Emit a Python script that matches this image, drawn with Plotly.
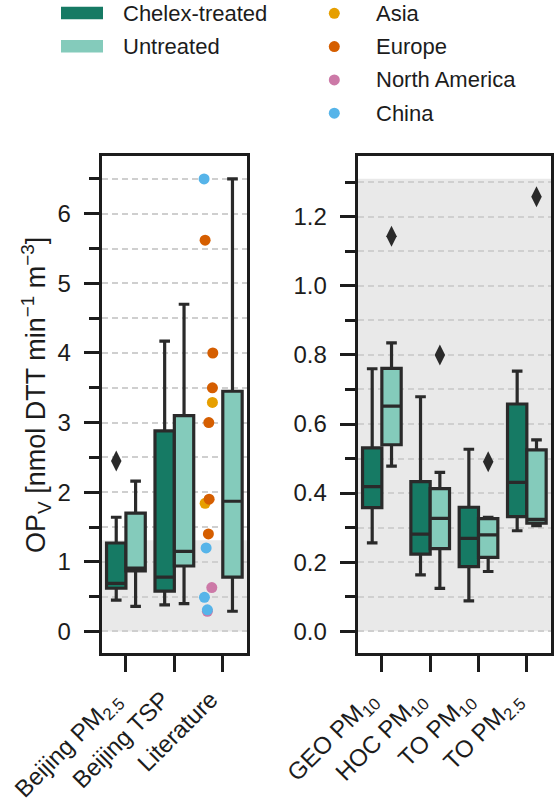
import plotly.graph_objects as go

W, H = 555, 802

# ---------------- data ----------------
left_categories = ["Beijing PM<sub>2.5</sub>", "Beijing TSP", "Literature"]
right_categories = ["GEO PM<sub>10</sub>", "HOC PM<sub>10</sub>", "TO PM<sub>10</sub>", "TO PM<sub>2.5</sub>"]

# box statistics: [lowerfence, q1, median, q3, upperfence]; None = no box
left_chelex = [
    [0.45, 0.62, 0.69, 1.27, 1.64],
    [0.38, 0.58, 0.78, 2.88, 4.17],
    None,
]
left_untreated = [
    [0.36, 0.87, 0.91, 1.70, 2.16],
    [0.40, 0.94, 1.15, 3.10, 4.70],
    [0.29, 0.78, 1.87, 3.45, 6.50],
]
right_chelex = [
    [0.256, 0.358, 0.419, 0.531, 0.760],
    [0.163, 0.223, 0.281, 0.433, 0.679],
    [0.088, 0.187, 0.269, 0.359, 0.527],
    [0.291, 0.332, 0.431, 0.658, 0.753],
]
right_untreated = [
    [0.478, 0.540, 0.652, 0.761, 0.835],
    [0.124, 0.239, 0.327, 0.413, 0.460],
    [0.173, 0.214, 0.279, 0.326, 0.330],
    [0.306, 0.313, 0.324, 0.525, 0.554],
]

# outliers: (category index, group, value)
left_outliers = [(0, "Chelex-treated", 2.45)]
right_outliers = [
    (0, "Untreated", 1.144),
    (1, "Untreated", 0.800),
    (2, "Untreated", 0.491),
    (3, "Untreated", 1.258),
]

# literature values (stripplot), region, and read-off horizontal jitter
lit_values = [6.50, 5.62, 4.00, 3.50, 3.29, 3.00, 1.90, 1.84, 1.40, 1.20, 0.63, 0.49, 0.29, 0.31]
lit_regions = ["China", "Europe", "Europe", "Europe", "Asia", "Europe", "Europe", "Asia",
               "Europe", "China", "North America", "China", "North America", "China"]
lit_jitter = [-0.386, -0.365, -0.206, -0.214, -0.214, -0.289, -0.282, -0.365,
              -0.297, -0.344, -0.227, -0.379, -0.318, -0.318]

region_names = ["Asia", "Europe", "North America", "China"]
region_colors = {"Asia": "#e69f00", "Europe": "#d55e00", "North America": "#cc79a7", "China": "#56b4e9"}
group_names = ["Chelex-treated", "Untreated"]
group_colors = {"Chelex-treated": "#167a64", "Untreated": "#84cbbb"}

shade_top = 1.31

# ---------------- styling ----------------
FONT = "Liberation Sans, Arial, sans-serif"
INK = "#1c1c1c"
EDGE = "#2a2a2a"
GRID = "#cfcfcf"
SHADE = "#e9e9e9"
OFFSET = {"Chelex-treated": -0.2, "Untreated": 0.2}

fig = go.Figure()


def add_boxes(stats_list, group, xaxis, yaxis):
    for i, st in enumerate(stats_list):
        if st is None:
            continue
        lo, q1, med, q3, hi = st
        fig.add_trace(go.Box(
            x=[i + OFFSET[group]], q1=[q1], median=[med], q3=[q3],
            lowerfence=[lo], upperfence=[hi], width=0.4,
            fillcolor=group_colors[group],
            line=dict(color=EDGE, width=3.2), whiskerwidth=0.55,
            boxpoints=False, showlegend=False, hoverinfo="skip",
            xaxis=xaxis, yaxis=yaxis,
        ))


add_boxes(left_chelex, "Chelex-treated", "x", "y")
add_boxes(left_untreated, "Untreated", "x", "y")
add_boxes(right_chelex, "Chelex-treated", "x2", "y2")
add_boxes(right_untreated, "Untreated", "x2", "y2")

for outs, xa, ya in [(left_outliers, "x", "y"), (right_outliers, "x2", "y2")]:
    fig.add_trace(go.Scatter(
        x=[c + OFFSET[g] for c, g, v in outs], y=[v for c, g, v in outs],
        mode="markers", marker=dict(symbol="diamond-tall", size=15, color=EDGE),
        showlegend=False, hoverinfo="skip", xaxis=xa, yaxis=ya,
    ))

lit_index = left_categories.index("Literature")
for reg in region_names:
    xs = [lit_index + j for j, r in zip(lit_jitter, lit_regions) if r == reg]
    ys = [v for v, r in zip(lit_values, lit_regions) if r == reg]
    fig.add_trace(go.Scatter(
        x=xs, y=ys, mode="markers",
        marker=dict(size=11, color=region_colors[reg], line=dict(width=0)),
        showlegend=False, hoverinfo="skip", xaxis="x", yaxis="y",
    ))

# shaded band
for xr, yr in [("x", "y"), ("x2", "y2")]:
    fig.add_shape(type="rect", xref=f"{xr} domain", yref=yr, x0=0, x1=1,
                  y0=0, y1=shade_top, fillcolor=SHADE, line=dict(width=0), layer="below")

# ---------------- layout ----------------
def px_x(p):
    return p / W


def px_y(p):
    return 1 - p / H


ydom = [px_y(653), px_y(156)]
ytickfont = dict(family=FONT, size=24, color=INK)
xtickfont = dict(family=FONT, size=24, color=INK)

common_y = dict(
    showline=True, linecolor=INK, linewidth=3, mirror=True,
    ticks="outside", ticklen=15, tickwidth=3, tickcolor=INK,
    tickfont=ytickfont, ticklabelstandoff=8, automargin=False,
    showgrid=True, gridcolor=GRID, gridwidth=1.5, griddash="6px,4px",
    zeroline=False, domain=ydom,
)
common_x = dict(
    showline=True, linecolor=INK, linewidth=3, mirror=True,
    ticks="outside", ticklen=16, tickwidth=3, tickcolor=INK,
    tickfont=xtickfont, tickangle=-45, showgrid=False, zeroline=False,
    automargin=False, ticklabelshift=-12, ticklabelstandoff=4,
)

fig.update_layout(
    width=W, height=H, margin=dict(l=0, r=0, t=0, b=0, autoexpand=False),
    paper_bgcolor="white", plot_bgcolor="white",
    font=dict(family=FONT, color=INK),
    showlegend=False,
    xaxis=dict(common_x, domain=[px_x(101.7), px_x(247)], range=[-0.5, 2.5],
               tickmode="array", tickvals=list(range(len(left_categories))),
               ticktext=left_categories, anchor="y"),
    xaxis2=dict(common_x, domain=[px_x(357.7), px_x(551)], range=[-0.5, 3.5],
                tickmode="array", tickvals=list(range(len(right_categories))),
                ticktext=right_categories, anchor="y2"),
    yaxis=dict(common_y, range=[-0.31, 6.83], tick0=0, dtick=1, anchor="x",
               minor=dict(dtick=0.5, ticklen=10, tickwidth=3, tickcolor=INK, ticks="outside",
                          showgrid=True, gridcolor=GRID, gridwidth=1.5, griddash="6px,4px")),
    yaxis2=dict(common_y, range=[-0.063, 1.376], tick0=0, dtick=0.2, tickformat=".1f", anchor="x2",
                minor=dict(dtick=0.1, ticklen=10, tickwidth=3, tickcolor=INK, ticks="outside",
                           showgrid=True, gridcolor=GRID, gridwidth=1.5, griddash="6px,4px")),
)

# y-axis title
fig.add_annotation(
    text="OP<sub>V</sub> [nmol DTT min<sup>−1</sup> m<sup>−3</sup>]",
    xref="paper", yref="paper", x=px_x(36), y=px_y(395), textangle=-90,
    showarrow=False, font=dict(family=FONT, size=27, color=INK),
    xanchor="center", yanchor="middle",
)

# legend (drawn manually)
legend_font = dict(family=FONT, size=22, color=INK)
for k, g in enumerate(group_names):
    cy = 13 + k * 33.3
    fig.add_shape(type="rect", xref="paper", yref="paper",
                  x0=px_x(61), x1=px_x(103), y0=px_y(cy - 6.3), y1=px_y(cy + 6.3),
                  fillcolor=group_colors[g], line=dict(width=0))
    fig.add_annotation(text=g, xref="paper", yref="paper", x=px_x(121), y=px_y(cy),
                       xanchor="left", yanchor="middle", showarrow=False, font=legend_font)
for k, reg in enumerate(region_names):
    cy = 13.3 + k * 33.3
    fig.add_shape(type="circle", xref="paper", yref="paper",
                  x0=px_x(334.3 - 5.5), x1=px_x(334.3 + 5.5), y0=px_y(cy + 5.5), y1=px_y(cy - 5.5),
                  fillcolor=region_colors[reg], line=dict(width=0))
    fig.add_annotation(text=reg, xref="paper", yref="paper", x=px_x(374), y=px_y(cy),
                       xanchor="left", yanchor="middle", showarrow=False, font=legend_font)

fig.write_html("out.html")
